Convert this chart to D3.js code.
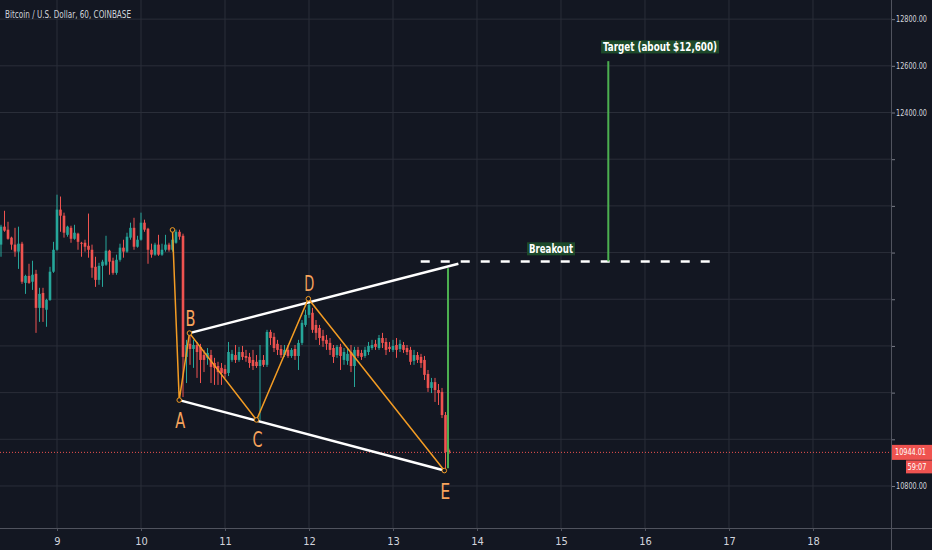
<!DOCTYPE html>
<html><head><meta charset="utf-8">
<script src="https://cdn.jsdelivr.net/npm/d3@7"></script>
<style>
html,body{margin:0;padding:0;background:#131722;overflow:hidden}
svg{display:block}
</style></head><body>
<svg id="c" width="932" height="550"></svg>
<script>
// ---------- DATA ----------
const title = "Bitcoin / U.S. Dollar, 60, COINBASE";
const firstCandleDay = 8 + 8 / 24;      // hourly candles, first one at day 8, 08:00
const opens = [
11834,11911,11898,11864,11834,11804,11838,11670,11700,11675,
11709,11563,11627,11555,11597,11718,11812,11984,11958,11876,
11906,11859,11881,11842,11842,11829,11812,11739,11683,11743,
11748,11808,11765,11713,11769,11821,11804,11864,11906,11825,
11855,11928,11902,11812,11791,11834,11791,11812,11834,11812,
11842,11889,11872,11353,11409,11387,11404,11396,11361,11349,
11361,11327,11314,11306,11301,11284,11340,11361,11340,11374,
11357,11353,11340,11332,11314,11340,11319,11460,11439,11409,
11387,11361,11383,11357,11387,11357,11413,11490,11533,11542,
11490,11477,11443,11426,11413,11391,11361,11396,11340,11336,
11374,11314,11383,11370,11357,11374,11391,11409,11391,11434,
11417,11396,11383,11404,11387,11404,11391,11383,11336,11361,
11353,11340,11280,11220,11245,11211,11203,11104,10953];
const highs = [
11919,11979,11932,11868,11906,11911,11846,11705,11752,11765,
11726,11649,11649,11602,11739,11846,12048,12040,11971,11915,
11915,11919,11885,11846,11855,11967,11834,11782,11756,11769,
11872,11812,11778,11791,11838,11855,11885,11928,11949,11872,
11971,11941,11906,11838,11842,11876,11838,11876,11842,11898,
11898,11898,11881,11426,11452,11426,11417,11409,11383,11391,
11383,11349,11332,11327,11319,11417,11383,11404,11396,11400,
11383,11370,11383,11361,11404,11361,11469,11469,11456,11426,
11404,11404,11404,11391,11404,11426,11511,11555,11597,11563,
11511,11490,11469,11447,11434,11404,11404,11409,11391,11387,
11404,11396,11396,11383,11396,11417,11426,11426,11447,11456,
11434,11417,11426,11434,11426,11417,11404,11396,11383,11374,
11366,11357,11297,11263,11263,11237,11220,11117,10960];
const lows = [
11782,11889,11855,11812,11782,11730,11666,11623,11666,11640,
11456,11503,11503,11482,11593,11713,11808,11889,11864,11868,
11842,11855,11812,11782,11804,11778,11692,11653,11662,11653,
11743,11705,11705,11705,11761,11778,11799,11855,11812,11821,
11851,11889,11752,11778,11786,11786,11786,11804,11804,11804,
11838,11855,11181,11241,11319,11306,11263,11241,11288,11319,
11241,11233,11233,11233,11263,11271,11332,11327,11332,11340,
11332,11306,11297,11306,11083,11310,11310,11404,11374,11361,
11349,11353,11349,11349,11340,11297,11404,11482,11520,11456,
11426,11404,11396,11383,11361,11327,11349,11297,11319,11319,
11288,11224,11349,11340,11349,11361,11383,11383,11383,11391,
11361,11374,11374,11349,11374,11370,11361,11319,11319,11327,
11306,11254,11203,11198,11160,11147,11091,10876,10937];
const closes = [
11911,11894,11859,11834,11804,11838,11675,11700,11670,11705,
11563,11623,11563,11597,11718,11812,11984,11958,11885,11911,
11859,11885,11846,11838,11825,11812,11735,11683,11743,11761,
11808,11761,11713,11769,11821,11804,11868,11906,11825,11855,
11928,11898,11812,11791,11834,11791,11812,11834,11812,11855,
11889,11868,11353,11404,11387,11404,11374,11340,11340,11370,
11310,11306,11288,11284,11280,11374,11366,11340,11374,11353,
11349,11327,11314,11314,11340,11319,11460,11434,11391,11383,
11361,11383,11357,11383,11357,11413,11499,11533,11576,11469,
11456,11434,11422,11409,11383,11353,11396,11357,11374,11366,
11314,11383,11357,11353,11383,11400,11404,11396,11434,11413,
11383,11387,11400,11383,11409,11383,11374,11332,11361,11340,
11327,11276,11220,11245,11211,11198,11104,10945,10944.01];
const lastPrice = 10944.01;
const countdown = "59:07";

const dayTicks = [9,10,11,12,13,14,15,16,17,18];
const priceTicks = [12800,12600,12400,12200,12000,11800,11600,11400,11200,11000,10800];
const priceTickLabels = ["12800.00","12600.00","12400.00","","","","","","","","10800.00"];

// ABCDE pattern (day, price)
const patternNames  = ["", "A", "B", "C", "D", "E"];
const patternDays   = [10.375, 10.455, 10.577, 11.375, 11.992, 13.611];
const patternPrices = [11897, 11168, 11455, 11083, 11602, 10866];
// channel lines
const upperLineDays = [10.577, 13.778], upperLinePrices = [11455, 11752];
const lowerLineDays = [10.455, 13.611], lowerLinePrices = [11168, 10866];
// breakout / target
const breakoutDays = [13.33, 16.861], breakoutPrice = 11762;
const moveDay = 13.655, movePrices = [10876, 11733];
const targetDay = 15.563, targetPrices = [11762, 12620];
const noteTexts  = ["Breakout", "Target (about $12,600)"];
const noteDays   = [14.881, 16.179];
const notePrices = [11816, 12681];

// ---------- CHART ----------
const W = 932, H = 550, PW = 891, PH = 528;
const FONT = "'DejaVu Sans Condensed','DejaVu Sans',sans-serif";
const fit = (sel, w) => sel.attr("textLength", w).attr("lengthAdjust", "spacingAndGlyphs");
const svg = d3.select("#c");
svg.append("rect").attr("width", W).attr("height", H).attr("fill", "#131722");

const x = d3.scaleLinear().domain([8.3214, 18.9286]).range([0, PW]);
const y = d3.scaleLinear().domain([10620, 12882]).range([PH, 0]);

const grid = svg.append("g");
grid.selectAll("line.v").data(dayTicks).join("line")
  .attr("x1", d => x(d)).attr("x2", d => x(d)).attr("y1", 0).attr("y2", PH)
  .attr("stroke", "#2a2e39").attr("stroke-width", 1);
grid.selectAll("line.h").data(priceTicks).join("line")
  .attr("x1", 0).attr("x2", PW).attr("y1", d => y(d)).attr("y2", d => y(d))
  .attr("stroke", "#2a2e39").attr("stroke-width", 1);

// candles
const candles = opens.map((o, i) => ({t: firstCandleDay + i / 24, o, h: highs[i], l: lows[i], c: closes[i]}));
const up = "#26a69a", dn = "#ef5350";
const cg = svg.append("g");
cg.selectAll("line").data(candles).join("line")
  .attr("x1", d => x(d.t)).attr("x2", d => x(d.t))
  .attr("y1", d => y(d.h)).attr("y2", d => y(d.l))
  .attr("stroke", d => d.c >= d.o ? up : dn).attr("stroke-width", 1);
cg.selectAll("rect").data(candles).join("rect")
  .attr("x", d => x(d.t) - 1.3).attr("width", 2.6)
  .attr("y", d => y(Math.max(d.o, d.c)))
  .attr("height", d => Math.max(1, Math.abs(y(d.o) - y(d.c))))
  .attr("fill", d => d.c >= d.o ? up : dn);

// last price dotted line
svg.append("line").attr("x1", 0).attr("x2", PW).attr("y1", y(lastPrice)).attr("y2", y(lastPrice))
  .attr("stroke", "#ef5350").attr("stroke-width", 1).attr("stroke-dasharray", "1,2");

// channel lines
const line = d3.line().x(d => x(d[0])).y(d => y(d[1]));
svg.append("path").attr("d", line(d3.zip(upperLineDays, upperLinePrices)))
  .attr("stroke", "#ffffff").attr("stroke-width", 2.5).attr("fill", "none");
svg.append("path").attr("d", line(d3.zip(lowerLineDays, lowerLinePrices)))
  .attr("stroke", "#ffffff").attr("stroke-width", 2.5).attr("fill", "none");

// pattern
const pts = patternDays.map((d, i) => [d, patternPrices[i], patternNames[i]]);
svg.append("path").attr("d", line(pts)).attr("stroke", "#f39c24").attr("stroke-width", 1.5).attr("fill", "none");
svg.selectAll("circle.p").data(pts).join("circle")
  .attr("cx", d => x(d[0])).attr("cy", d => y(d[1])).attr("r", 2.3)
  .attr("fill", "#131722").attr("stroke", "#f39c24").attr("stroke-width", 1);
const labelOffsets = {A: 21, B: -14, C: 20, D: -15, E: 21};
svg.selectAll("text.p").data(pts.filter(d => d[2])).join("text")
  .attr("x", d => x(d[0]) + 1 - 5).attr("y", d => y(d[1]) + labelOffsets[d[2]])
  .attr("dominant-baseline", "central")
  .attr("font-family", FONT).attr("font-size", 21).attr("fill", "#f7a35c")
  .attr("textLength", 10).attr("lengthAdjust", "spacingAndGlyphs")
  .text(d => d[2]);

// breakout dashed line
svg.append("line").attr("x1", x(breakoutDays[0])).attr("x2", x(breakoutDays[1]))
  .attr("y1", y(breakoutPrice)).attr("y2", y(breakoutPrice))
  .attr("stroke", "#ffffff").attr("stroke-width", 2.5).attr("stroke-dasharray", "9,11");
// green verticals
svg.append("line").attr("x1", x(moveDay)).attr("x2", x(moveDay))
  .attr("y1", y(movePrices[0])).attr("y2", y(movePrices[1]))
  .attr("stroke", "#4caf50").attr("stroke-width", 2);
svg.append("line").attr("x1", x(targetDay)).attr("x2", x(targetDay))
  .attr("y1", y(targetPrices[0])).attr("y2", y(targetPrices[1]))
  .attr("stroke", "#4caf50").attr("stroke-width", 2);

// notes
const noteWidths = [44, 114];
noteTexts.forEach((t, i) => {
  const g = svg.append("g").attr("transform", `translate(${x(noteDays[i])},${y(notePrices[i])})`);
  const w = noteWidths[i];
  g.append("rect").attr("x", -w / 2 - 2).attr("y", -6.5).attr("width", w + 4).attr("height", 13)
    .attr("fill", "#1d4a2b");
  g.append("text").attr("x", -w / 2).attr("dominant-baseline", "central")
    .attr("font-family", FONT).attr("font-size", 12).attr("font-weight", "bold").attr("fill", "#ffffff")
    .call(fit, w).text(t);
});

// axes
const yAxis = d3.axisRight(y).tickValues(priceTicks).tickSize(4).tickPadding(1)
  .tickFormat((d, i) => priceTickLabels[i]);
const ya = svg.append("g").attr("transform", `translate(${PW},0)`).call(yAxis);
ya.select(".domain").remove();
ya.selectAll(".tick line").attr("stroke", "#787b86");
ya.selectAll(".tick text").attr("fill", "#d1d4dc").attr("font-family", FONT).attr("font-size", 8.5)
  .filter((d, i) => priceTickLabels[i] !== "").call(fit, 31);
svg.append("line").attr("x1", PW + 0.5).attr("x2", PW + 0.5).attr("y1", 0).attr("y2", H)
  .attr("stroke", "#50535e").attr("stroke-width", 1);

const xAxis = d3.axisBottom(x).tickValues(dayTicks).tickSize(3).tickPadding(6).tickFormat(d3.format("d"));
const xa = svg.append("g").attr("transform", `translate(0,${PH})`).call(xAxis);
xa.select(".domain").remove();
xa.selectAll(".tick line").attr("stroke", "#50535e");
xa.selectAll(".tick text").attr("fill", "#d1d4dc").attr("font-family", FONT).attr("font-size", 11);
svg.append("line").attr("x1", 0).attr("x2", W).attr("y1", PH + 0.5).attr("y2", PH + 0.5)
  .attr("stroke", "#50535e").attr("stroke-width", 1);

// last price label + countdown
const ly = y(lastPrice);
svg.append("rect").attr("x", PW + 1).attr("y", ly - 7.5).attr("width", W - PW - 1).attr("height", 15).attr("fill", "#ef5350");
svg.append("text").attr("x", 895).attr("y", ly).attr("dominant-baseline", "central")
  .attr("font-family", FONT).attr("font-size", 8.5).attr("fill", "#ffffff")
  .call(fit, 31).text(d3.format(".2f")(lastPrice));
svg.append("rect").attr("x", 906).attr("y", ly + 8).attr("width", W - 906).attr("height", 13).attr("fill", "#ef5350");
svg.append("text").attr("x", 907.5).attr("y", ly + 14.5).attr("dominant-baseline", "central")
  .attr("font-family", FONT).attr("font-size", 8.5).attr("fill", "#ffffff")
  .call(fit, 19).text(countdown);

// title
svg.append("text").attr("x", 5).attr("y", 13.5).attr("dominant-baseline", "central")
  .attr("font-family", FONT).attr("font-size", 10.5).attr("fill", "#d1d4dc")
  .call(fit, 126).text(title);
</script>
</body></html>
